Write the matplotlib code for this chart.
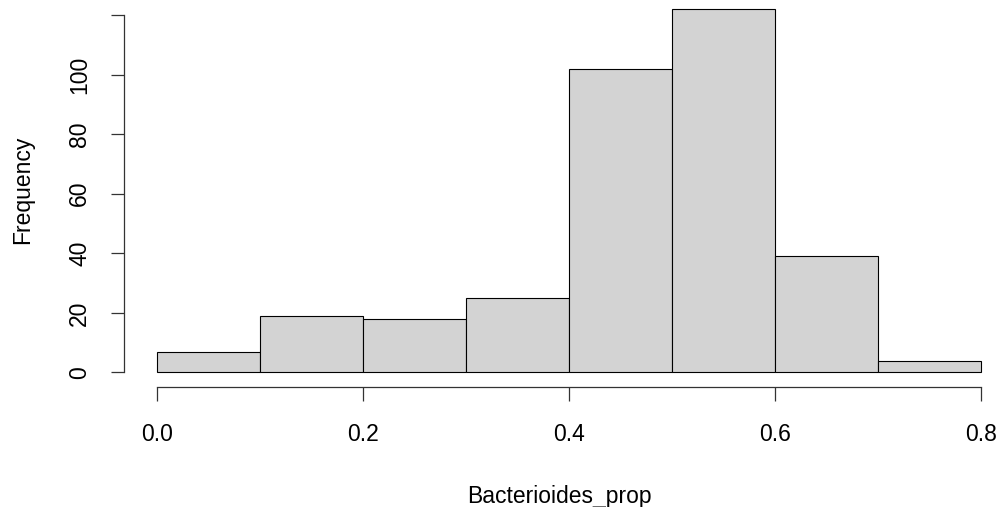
import numpy
import matplotlib
matplotlib.use("Agg")
import matplotlib.pyplot as plt

# histogram of Bacterioides_prop, R style
bin_edges = [0.0, 0.1, 0.2, 0.3, 0.4, 0.5, 0.6, 0.7, 0.8]
counts = [7, 19, 18, 25, 102, 122, 39, 4]
xticks = [0.0, 0.2, 0.4, 0.6, 0.8]
xticklabels = ["0.0", "0.2", "0.4", "0.6", "0.8"]
yticks = [0, 20, 40, 60, 80, 100, 120]
yticklabels = ["0", "20", "40", "60", "80", "100", ""]

plt.rcParams['font.family'] = ['Liberation Sans', 'DejaVu Sans']
W, H = 1002, 507
fig = plt.figure(figsize=(W / 100, H / 100), dpi=100)

# plot region in pixels (R extends data range by 4%)
left, right, top, bottom = 124, 1014, -5.5, 387
ax = fig.add_axes([left / W, (H - bottom) / H, (right - left) / W, (bottom - top) / H])

edges = numpy.array(bin_edges)
ax.bar(edges[:-1], counts, width=numpy.diff(edges), align='edge',
       color='#d3d3d3', edgecolor='black', linewidth=0.8)

xr = edges[-1] - edges[0]
ax.set_xlim(edges[0] - 0.04 * xr, edges[-1] + 0.04 * xr)
ax.set_ylim(-0.04 * max(counts), max(counts) * 1.04)

for s in ['top', 'right']:
    ax.spines[s].set_visible(False)
ax.spines['left'].set_bounds(0, 120)
ax.spines['bottom'].set_bounds(0, 0.8)
for s in ['left', 'bottom']:
    ax.spines[s].set_linewidth(0.9)
    ax.spines[s].set_color('#333333')

ax.set_xticks(xticks)
ax.set_xticklabels(xticklabels)
ax.set_yticks(yticks)
ax.set_yticklabels(yticklabels, rotation=90, va='center')
ax.tick_params(axis='x', length=10, width=0.9, color='#333333', pad=16, labelsize=16.5)
ax.tick_params(axis='y', length=9.5, width=0.9, color='#333333', pad=14, labelsize=16.5)

fig.text(559 / W, 1 - 497 / H, "Bacterioides_prop", ha='center', va='center', fontsize=16.5)
fig.text(23 / W, 1 - 190 / H, "Frequency", ha='center', va='center', rotation=90, fontsize=16.5)

fig.savefig("out.png", dpi=100)
